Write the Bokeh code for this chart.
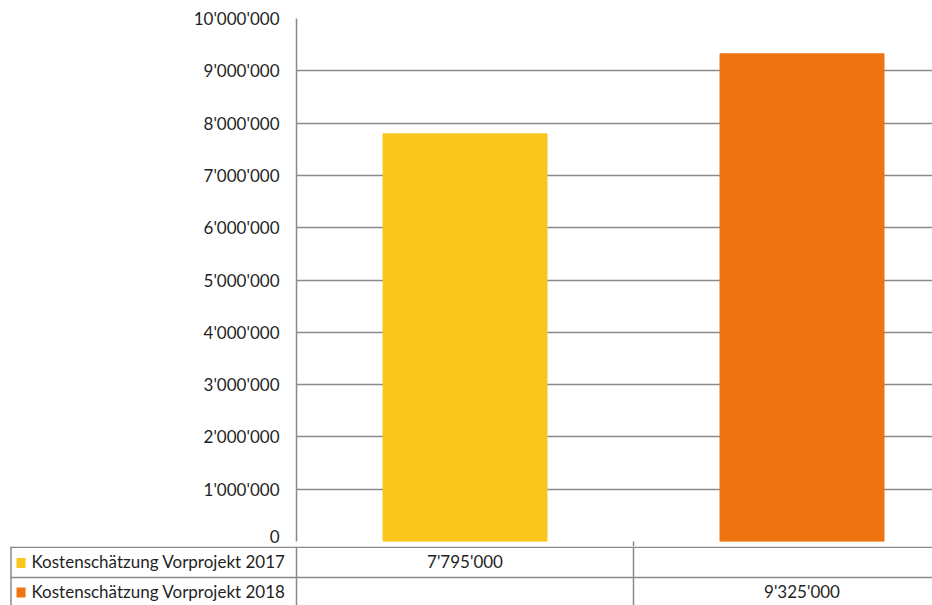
from bokeh.plotting import figure
from bokeh.models import Range1d, FixedTicker, CustomJSTickFormatter, ColumnDataSource
from bokeh.core.properties import value
from bokeh.embed import file_html
from bokeh.resources import INLINE

# ---- data ----
series_names = ["Kostenschätzung Vorprojekt 2017", "Kostenschätzung Vorprojekt 2018"]
series_values = [7795000, 9325000]
category_pos = [0.5, 1.5]
series_colors = ["#FAC61D", "#EE7412"]
y_ticks = [0, 1000000, 2000000, 3000000, 4000000, 5000000,
           6000000, 7000000, 8000000, 9000000, 10000000]

FONT = "Lato"
TXT = "#1f1f1f"
GRID = "#8a8a8a"
LW = 1.5

CAT_PX = 337.0  # pixel width of one category column
X_MAX = 636.0 / CAT_PX

def fmt(v):
    return f"{v:,}".replace(",", "'")

# ---- chart ----
top = figure(width=932, height=546, output_backend="svg", toolbar_location=None,
             x_range=Range1d(0, X_MAX), y_range=Range1d(0, 10000000),
             min_border_left=296, min_border_right=0, min_border_top=18,
             min_border_bottom=5)
top.outline_line_color = None
top.background_fill_color = "white"
top.border_fill_color = "white"
top.xgrid.visible = False
top.ygrid.ticker = FixedTicker(ticks=y_ticks)
top.ygrid.grid_line_color = GRID
top.ygrid.grid_line_width = LW

ya = top.yaxis[0]
ya.ticker = FixedTicker(ticks=y_ticks)
ya.formatter = CustomJSTickFormatter(code="""
return Math.round(tick).toString().replace(/\\B(?=(\\d{3})+(?!\\d))/g, "'");
""")
ya.major_tick_out = 0
ya.major_tick_in = 0
ya.minor_tick_out = 0
ya.minor_tick_in = 0
ya.axis_line_color = GRID
ya.axis_line_width = LW
ya.major_label_standoff = 17
ya.major_label_text_font = FONT
ya.major_label_text_font_size = "17px"
ya.major_label_text_color = TXT

xa = top.xaxis[0]
xa.ticker = FixedTicker(ticks=[1])
xa.formatter = CustomJSTickFormatter(code="return '';")
xa.major_tick_out = 5
xa.major_tick_in = 0
xa.minor_tick_out = 0
xa.minor_tick_in = 0
xa.major_tick_line_color = GRID
xa.major_tick_line_width = LW
xa.axis_line_color = None
xa.major_label_text_font_size = "1px"
xa.major_label_standoff = 0

src = ColumnDataSource(dict(x=category_pos, top=series_values, color=series_colors))
top.vbar(x="x", width=164.0 / CAT_PX, top="top", bottom=0, color="color", source=src)

# ---- data table (separate root, so its frame is not aligned to the chart) ----
def px(p):
    return (p - 296.0) / CAT_PX

def py(q):
    return 605.0 - q

tab = figure(width=932, height=59, output_backend="svg", toolbar_location=None,
             x_range=Range1d(px(0), px(932)), y_range=Range1d(0, 59),
             x_axis_location=None, y_axis_location=None,
             min_border_left=0, min_border_right=0, min_border_top=0, min_border_bottom=0)
tab.outline_line_color = None
tab.xgrid.visible = False
tab.ygrid.visible = False
tab.background_fill_color = "white"
tab.border_fill_color = "white"

hx0 = [px(10), px(10)]
hx1 = [px(940), px(940)]
hy = [58.3, py(577)]
tab.segment(x0=hx0, y0=hy, x1=hx1, y1=hy, line_color=GRID, line_width=LW)
vx = [px(10.5), 0.0, 1.0]
tab.segment(x0=vx, y0=[0, 0, 0], x1=vx, y1=[59, 59, 59], line_color=GRID, line_width=LW)

row_y = [py(561), py(591)]
tab.rect(x=[px(20.5)] * 2, y=[py(562.5), py(592)], width=9, height=10,
         width_units="screen", height_units="screen",
         fill_color=series_colors, line_color=None)
tab.text(x=[px(31)] * 2, y=row_y, text=series_names, text_font=value(FONT),
         text_font_size="17px", text_color=TXT, text_align="left", text_baseline="middle")
tab.text(x=category_pos, y=row_y, text=[fmt(v) for v in series_values],
         text_font=value(FONT), text_font_size="17px", text_color=TXT,
         text_align="center", text_baseline="middle")

open("out.html", "w").write(file_html([top, tab], INLINE))
